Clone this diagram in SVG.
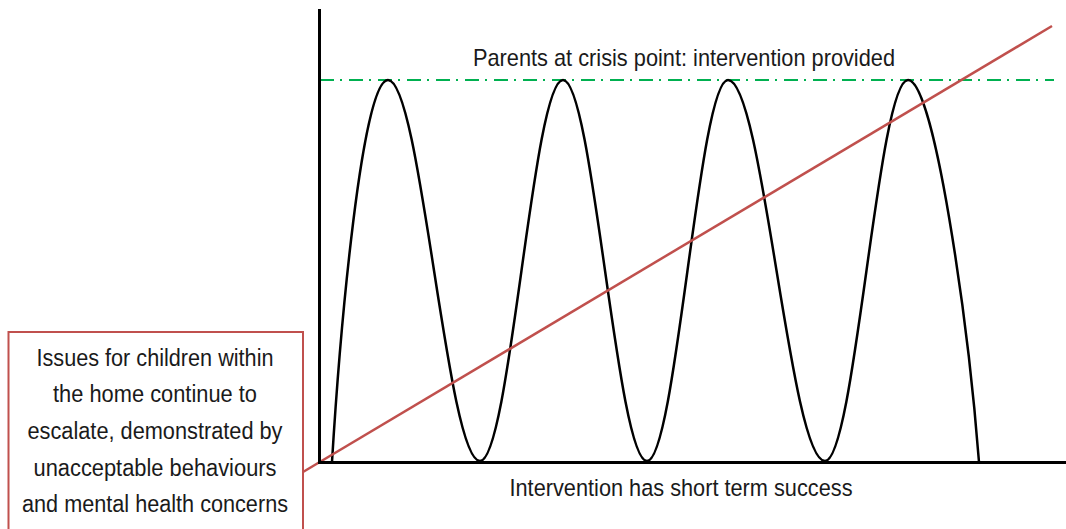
<svg xmlns="http://www.w3.org/2000/svg" width="1066" height="529" viewBox="0 0 1066 529">
  <style>
    .txt { font-family: "Liberation Sans Narrow", "Liberation Sans", Arial, sans-serif; fill: #1a1a1a; }
    .axis { stroke: #000; stroke-width: 3; fill: none; }
    .wave { stroke: #000; stroke-width: 2.5; fill: none; }
    .trend { stroke: #C0504D; stroke-width: 2.5; fill: none; }
    .crisis { stroke: #00B050; stroke-width: 2; stroke-dasharray: 14 6 2 7; fill: none; }
  </style>
  <rect width="1066" height="529" fill="#fff"/>
  <g id="connectors">
    <line class="crisis" x1="320" y1="80" x2="1054" y2="80"/>
    <path class="wave" d="M332,462 C340,330 362,80 388,80 C421,80 447,461 480,461 C510,461 533,80 563,80 C593,80 617,461 647,461 C676,461 699,80 728,80 C763,80 790,461 825,461 C855,461 878,80 908,80 C934,80 968,320 979,462"/>
    <line class="trend" x1="303" y1="472" x2="1052" y2="26"/>
    <line class="axis" x1="319.5" y1="9" x2="319.5" y2="463.5"/>
    <line class="axis" x1="318" y1="462.5" x2="1066" y2="462.5"/>
  </g>
  <g id="crisis-label">
    <text class="txt" x="684" y="66" font-size="24" text-anchor="middle" textLength="422" lengthAdjust="spacingAndGlyphs">Parents at crisis point: intervention provided</text>
  </g>
  <g id="success-label">
    <text class="txt" x="681" y="496" font-size="24.5" text-anchor="middle" textLength="343" lengthAdjust="spacingAndGlyphs">Intervention has short term success</text>
  </g>
  <g id="issues-box">
    <rect x="8.5" y="332" width="294.5" height="210" fill="#fff" stroke="#C0504D" stroke-width="2"/>
    <text class="txt" x="155" y="365.5" font-size="23" text-anchor="middle" textLength="237" lengthAdjust="spacingAndGlyphs">Issues for children within</text>
    <text class="txt" x="155" y="402" font-size="23" text-anchor="middle" textLength="204" lengthAdjust="spacingAndGlyphs">the home continue to</text>
    <text class="txt" x="155" y="438.5" font-size="23" text-anchor="middle" textLength="255" lengthAdjust="spacingAndGlyphs">escalate, demonstrated by</text>
    <text class="txt" x="155" y="475.5" font-size="23" text-anchor="middle" textLength="243" lengthAdjust="spacingAndGlyphs">unacceptable behaviours</text>
    <text class="txt" x="155" y="512" font-size="23" text-anchor="middle" textLength="266" lengthAdjust="spacingAndGlyphs">and mental health concerns</text>
  </g>
</svg>
